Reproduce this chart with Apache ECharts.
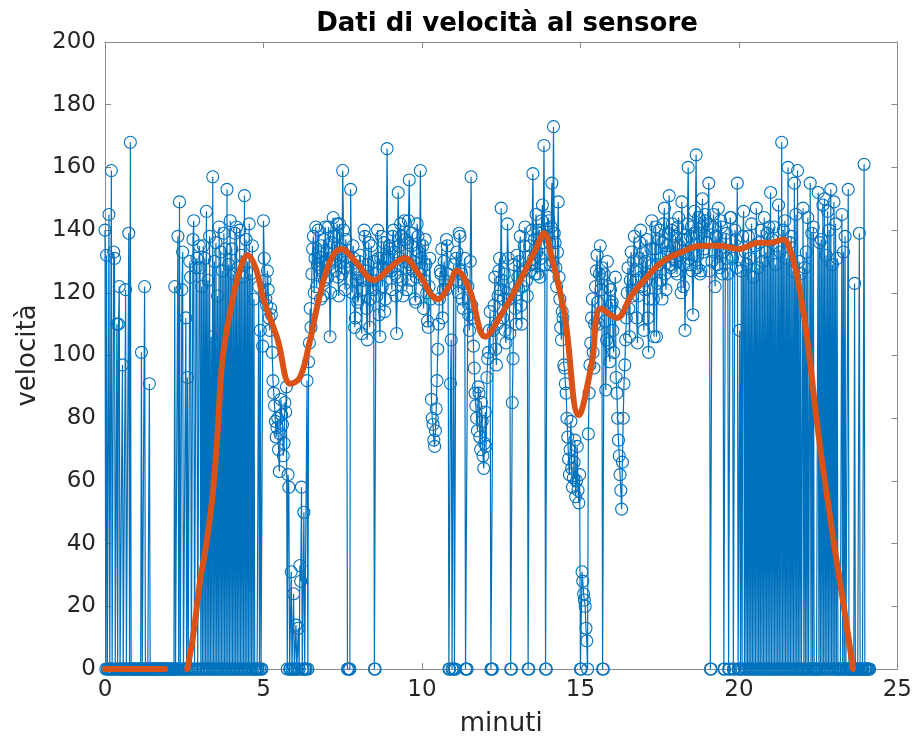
<!DOCTYPE html>
<html>
<head>
<meta charset="utf-8">
<title>Dati di velocità al sensore</title>
<script src="https://cdn.jsdelivr.net/npm/echarts@6/dist/echarts.min.js"></script>
<style>
  html, body { margin: 0; padding: 0; background: #fff; }
  #chart { width: 915px; height: 742px; }
</style>
</head>
<body>
<div id="chart"></div>
<script>
// Campionamento del sensore: un valore ogni 0,025 minuti (1,5 s), 0 = nessuna lettura
const passoMinuti = 0.025;

// minuti 0–6 (40 campioni per riga = 1 minuto)
const velocita0_6 = [
  140,0,132,0,0,145,0,0,159,0, 0,133,131,0,0,110,0,110,122,0, 0,0,97,0,0,0,121,0,0,0, 139,0,168,0,0,0,0,0,0,0,
  0,0,0,0,0,0,101,0,0,0, 122,0,0,0,0,0,91,0,0,0, 0,0,0,0,0,0,0,0,0,0, 0,0,0,0,0,0,0,0,0,0,
  0,0,0,0,0,0,0,0,122,0, 0,0,138,0,149,0,0,121,133,0, 0,0,112,0,93,0,0,130,125,0, 0,137,143,0,0,128,131,0,0,135,
  128,0,122,0,135,0,131,0,146,0, 124,0,138,0,106,0,157,0,130,0, 136,0,119,0,141,0,133,0,127,0, 139,0,134,0,153,0,129,0,143,0,
  134,0,126,0,139,0,141,0,128,0, 140,0,132,0,125,0,151,0,137,0, 130,0,142,0,126,0,135,0,118,0, 0,0,0,0,122,0,108,0,0,103,
  143,131,124,118,116,127,121,112,108,115, 113,101,92,88,84,79,74,77,80,70, 63,75,86,81,78,68,72,85,82,90, 0,62,58,0,0,31,0,0,24,0
];
// minuti 6–12
const velocita6_12 = [
  0,14,0,0,13,0,33,28,58,0, 0,50,0,0,0,92,0,98,104,115, 109,126,134,138,120,131,141,122,129,140, 133,128,118,135,127,119,137,124,141,130,
  133,125,141,129,106,120,136,131,144,138, 130,127,138,142,125,119,142,134,132,126, 159,140,128,121,137,130,0,0,0,0, 153,128,120,135,131,109,112,124,126,117,
  118,130,132,125,107,121,124,140,138,127, 115,105,129,136,109,118,135,124,121,130, 0,0,126,119,140,131,113,106,131,138, 122,128,136,114,118,127,166,131,128,135,
  134,127,121,138,140,133,126,119,107,125, 152,135,131,142,138,124,119,130,143,137, 128,121,136,143,156,129,124,135,139,127, 130,118,117,125,142,138,133,126,159,131,
  128,135,115,124,137,129,120,111,109,122, 131,118,86,80,78,73,71,76,83,92, 102,110,118,127,126,134,112,121,130,124, 121,137,135,126,0,0,91,105,0,0,
  129,0,0,131,133,124,120,139,138,127, 126,118,115,123,131,0,0,0,122,113, 108,130,157,116,112,103,96,88,84,80, 76,90,88,74,70,85,79,68,64,72
];
// minuti 12–18
const velocita12_18 = [
  82,71,93,99,101,108,114,0,0,0, 108,116,125,102,97,110,119,127,131,121, 147,124,112,118,126,108,104,120,142,131, 118,107,0,0,85,99,129,122,115,110,
  132,125,121,130,138,116,110,122,127,135, 141,128,124,119,0,0,135,127,129,140, 158,131,137,126,145,133,126,139,140,125, 131,143,148,136,167,129,0,0,138,144,
  143,136,129,141,155,130,173,139,136,128, 122,133,149,125,118,109,105,114,112,97, 96,91,88,80,74,67,62,70,79,64, 58,61,66,73,55,60,71,57,53,62,
  0,0,31,28,24,22,20,13,9,0, 75,88,97,104,112,118,101,96,110,122, 127,132,117,110,126,135,121,128,0,0, 126,111,89,105,130,122,104,98,121,116,
  117,108,101,114,125,93,88,80,73,68, 62,57,51,66,80,91,97,105,112,120, 128,115,106,124,133,121,119,130,138,127, 124,112,104,119,131,136,140,125,122,133,
  108,121,130,124,137,112,101,118,126,134, 143,129,118,106,134,141,106,123,129,137, 140,131,124,118,136,142,147,126,121,135, 133,139,151,129,128,140,142,131,135,127
];
// minuti 18–24
const velocita18_24 = [
  138,130,126,141,144,135,131,120,149,137, 122,129,108,133,137,142,160,131,129,138, 141,127,113,132,146,139,164,128,132,144, 139,126,127,141,150,133,134,145,143,136,
  136,142,155,127,0,0,130,141,145,133, 122,138,138,129,147,135,128,143,141,126, 133,0,0,137,139,131,126,0,0,144, 144,132,131,0,0,140,137,128,155,0,
  0,108,0,127,0,138,146,0,133,0, 129,0,138,0,131,0,142,0,125,0, 135,0,147,0,128,0,136,0,140,0, 130,0,144,0,133,0,139,0,141,0,
  152,0,137,0,141,0,129,0,135,0, 148,0,133,0,168,0,140,0,143,0, 131,0,160,0,136,0,138,0,127,0, 155,0,145,0,159,0,130,0,126,0,
  0,147,0,128,0,133,0,144,0,0, 155,0,139,0,141,0,0,0,0,0, 152,0,136,0,137,0,148,0,150,0, 132,0,146,0,140,0,153,0,129,0,
  149,0,142,0,131,0,0,0,0,0, 145,0,133,0,138,0,0,0,153,0, 0,0,0,0,0,0,123,0,0,0, 0,0,139,0,0,0,0,0,161,0,
  0,0,0,0,0,0
];

// Andamento medio (null = tratto non calcolato)
const tempiMedia = [
  0, 1.9, 1.95, 2.6, 2.8, 3.0, 3.2, 3.4, 3.55, 3.7, 3.95, 4.25, 4.5, 4.75, 5.0,
  5.45, 5.85, 6.15, 6.45, 6.75, 7.1, 7.45, 7.9, 8.5, 9.0, 9.45, 9.9, 10.5, 10.85,
  11.1, 11.5, 12.0, 12.5, 12.95, 13.6, 13.85, 14.1, 14.5, 14.95, 15.35, 15.65,
  16.15, 16.6, 17.1, 17.6, 18.2, 18.8, 19.4, 20.0, 20.6, 21.0, 21.4, 21.6, 21.8,
  22.0, 22.2, 22.4, 22.6, 22.8, 23.0, 23.2, 23.4, 23.6
];
const velocitaMedia = [
  0, 0, null, 0, 12, 28, 40, 56, 75, 98, 114, 127, 132, 128, 118,
  105, 91, 93, 104, 118, 130, 134, 130, 124, 128, 131, 126, 118, 122,
  127, 121, 106, 113, 121, 134, 139, 131, 113, 81, 97, 115,
  112, 119, 125, 130, 133, 135, 135, 134, 136, 136, 137, 134, 127,
  116, 102, 84, 68, 54, 40, 27, 14, 0
];

const tickX = [0, 5, 10, 15, 20, 25];
const tickY = [0, 20, 40, 60, 80, 100, 120, 140, 160, 180, 200];

const letture = [].concat(velocita0_6, velocita6_12, velocita12_18, velocita18_24)
  .map((v, i) => [+(i * passoMinuti).toFixed(3), v]);
const media = tempiMedia.map((t, i) => [t, velocitaMedia[i]]);

const blu = '#0072BD';
const arancio = '#D95319';
const colAsse = '#8a8a8a';
const colTesto = '#262626';
const font = 'DejaVu Sans';

function asseBase(extra) {
  return Object.assign({
    type: 'value',
    axisLine: { show: true, onZero: false, lineStyle: { color: colAsse, width: 1 } },
    axisTick: { show: true, inside: true, length: 6, lineStyle: { color: colAsse, width: 1 } },
    splitLine: { show: false }
  }, extra);
}

const chart = echarts.init(document.getElementById('chart'), null, { renderer: 'canvas' });
chart.setOption({
  animation: false,
  backgroundColor: '#ffffff',
  title: {
    text: 'Dati di velocità al sensore',
    left: 502,
    top: 6,
    textAlign: 'center',
    textStyle: { fontFamily: font, fontWeight: 'bold', fontSize: 26, color: '#000' }
  },
  grid: { left: 105, right: 15, top: 42, bottom: 71 },
  xAxis: [
    asseBase({
      min: tickX[0], max: tickX[tickX.length - 1], interval: 5,
      position: 'bottom',
      name: 'minuti', nameLocation: 'middle', nameGap: 42,
      nameTextStyle: { fontFamily: font, fontSize: 26, color: colTesto },
      axisLabel: { fontFamily: font, fontSize: 23, color: colTesto, margin: 10 }
    }),
    asseBase({
      min: tickX[0], max: tickX[tickX.length - 1], interval: 5,
      position: 'top',
      axisLabel: { show: false }
    })
  ],
  yAxis: [
    asseBase({
      min: tickY[0], max: tickY[tickY.length - 1], interval: 20,
      position: 'left',
      name: 'velocità', nameLocation: 'middle', nameGap: 52,
      nameTextStyle: { fontFamily: font, fontSize: 26, color: colTesto },
      axisLabel: { fontFamily: font, fontSize: 23, color: colTesto, margin: 9 }
    }),
    asseBase({
      min: tickY[0], max: tickY[tickY.length - 1], interval: 20,
      position: 'right',
      axisLabel: { show: false }
    })
  ],
  series: [
    {
      type: 'line',
      data: letture,
      xAxisIndex: 0, yAxisIndex: 0,
      symbol: 'circle',
      symbolSize: 12,
      showSymbol: true,
      showAllSymbol: true,
      clip: false,
      lineStyle: { color: blu, width: 1.2 },
      itemStyle: { color: 'rgba(0,0,0,0)', borderColor: blu, borderWidth: 1.1 },
      emphasis: { disabled: true },
      z: 2
    },
    {
      type: 'line',
      data: media,
      xAxisIndex: 0, yAxisIndex: 0,
      showSymbol: false,
      smooth: 0.4,
      connectNulls: false,
      lineStyle: { color: arancio, width: 6, cap: 'round', join: 'round' },
      itemStyle: { color: arancio },
      emphasis: { disabled: true },
      z: 3
    }
  ]
});
</script>
</body>
</html>
